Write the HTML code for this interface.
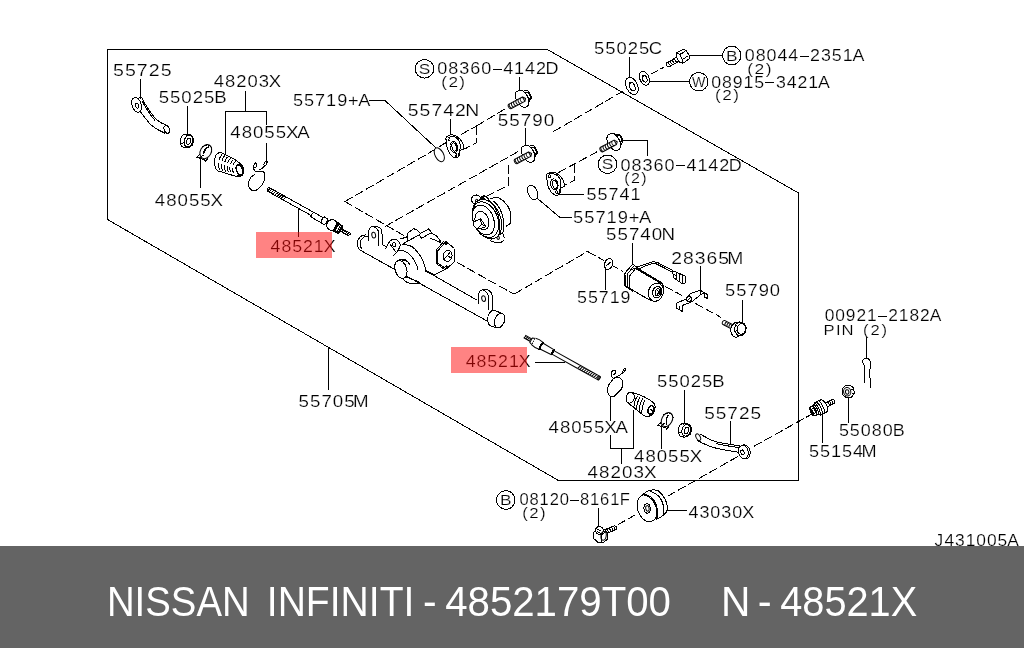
<!DOCTYPE html>
<html lang="en">
<head>
<meta charset="utf-8">
<title>NISSAN INFINITI - 4852179T00 N - 48521X</title>
<style>
html,body{margin:0;padding:0;background:#fff;}
body{width:1024px;height:648px;overflow:hidden;position:relative;font-family:"Liberation Sans",sans-serif;}
#diagram{position:absolute;left:0;top:0;width:1024px;height:546px;overflow:hidden;background:#fff;}
#diagram svg{display:block;will-change:transform;}
#diagram text{font-family:"Liberation Sans",sans-serif;stroke:#fff;stroke-width:0.18px;paint-order:fill stroke;}
#caption{position:absolute;left:0;top:546px;width:1024px;height:102px;background:#646464;color:#fff;}
#caption svg{display:block;will-change:transform;}
#caption text{font-family:"Liberation Sans",sans-serif;fill:#fff;font-size:41.6px;}
</style>
</head>
<body>
<div id="diagram">
<svg width="1024" height="546" viewBox="0 0 1024 546" fill="none" stroke="#000" stroke-width="1" stroke-linecap="butt" stroke-linejoin="round" shape-rendering="crispEdges">
<polygon points="107.5,49.5 547.5,49.5 798.5,193 798.5,480.5 558.5,480.5 107.5,219.5"/>
<text transform="scale(1.232,1)" x="91.73 101.41 111.09 120.78 130.46" y="76.00" font-size="15.9" fill="#000" style="stroke:#fff">55725</text>
<text transform="scale(1.170,1)" x="135.65 145.33 155.01 164.70 174.38 183.19" y="103.50" font-size="15.9" fill="#000" style="stroke:#fff">55025B</text>
<text transform="scale(1.161,1)" x="184.05 193.73 203.42 213.10 222.78 231.59" y="87.25" font-size="15.9" fill="#000" style="stroke:#fff">48203X</text>
<text transform="scale(1.173,1)" x="196.31 205.99 215.68 225.36 235.04 243.85 253.49" y="137.75" font-size="15.9" fill="#000" style="stroke:#fff">48055XA</text>
<text transform="scale(1.175,1)" x="131.72 141.41 151.09 160.77 170.46 179.26" y="205.75" font-size="15.9" fill="#000" style="stroke:#fff">48055X</text>
<text transform="scale(1.142,1)" x="256.49 266.17 275.85 285.54 295.22 304.66 313.67" y="105.75" font-size="15.9" fill="#000" style="stroke:#fff">55719+A</text>
<text transform="scale(1.133,1)" x="385.99 395.67 405.35 415.04 424.72 436.15 444.08 453.77 463.45 473.13 481.50" y="74.50" font-size="15.9" fill="#000" style="stroke:#fff">08360-4142D</text>
<rect x="493" y="68.0" width="9" height="4" fill="#fff" stroke="none"/>
<line x1="493" y1="69.5" x2="502" y2="69.5"/>
<text transform="scale(1.234,1)" x="357.58 363.38 372.25" y="87.25" font-size="13.9" fill="#000" style="stroke:#fff">(2)</text>
<text transform="scale(1.219,1)" x="334.54 344.23 353.91 363.59 373.28 381.65" y="115.75" font-size="15.9" fill="#000" style="stroke:#fff">55742N</text>
<text transform="scale(1.188,1)" x="419.07 428.75 438.43 448.12 457.80" y="125.75" font-size="15.9" fill="#000" style="stroke:#fff">55790</text>
<text transform="scale(1.161,1)" x="511.67 521.35 531.03 540.72 550.40 558.77" y="54.00" font-size="15.9" fill="#000" style="stroke:#fff">55025C</text>
<text transform="scale(1.123,1)" x="663.25 672.94 682.62 692.30 701.98 713.42 721.35 731.03 740.71 750.40 759.17" y="61.00" font-size="15.9" fill="#000" style="stroke:#fff">08044-2351A</text>
<rect x="800" y="55.0" width="9" height="4" fill="#fff" stroke="none"/>
<line x1="800" y1="56.5" x2="809" y2="56.5"/>
<text transform="scale(1.257,1)" x="594.48 600.29 609.15" y="74.25" font-size="13.9" fill="#000" style="stroke:#fff">(2)</text>
<text transform="scale(1.114,1)" x="638.44 648.12 657.80 667.48 677.17 688.60 696.53 706.21 715.90 725.58 734.35" y="87.75" font-size="15.9" fill="#000" style="stroke:#fff">08915-3421A</text>
<rect x="765" y="81.0" width="9" height="4" fill="#fff" stroke="none"/>
<line x1="765" y1="82.5" x2="774" y2="82.5"/>
<text transform="scale(1.234,1)" x="579.44 585.25 594.12" y="100.50" font-size="13.9" fill="#000" style="stroke:#fff">(2)</text>
<text transform="scale(1.133,1)" x="547.74 557.42 567.11 576.79 586.47 597.90 605.84 615.52 625.20 634.89 643.26" y="170.75" font-size="15.9" fill="#000" style="stroke:#fff">08360-4142D</text>
<rect x="676" y="164.0" width="9" height="4" fill="#fff" stroke="none"/>
<line x1="676" y1="165.5" x2="685" y2="165.5"/>
<text transform="scale(1.152,1)" x="541.96 547.77 556.63" y="183.50" font-size="13.9" fill="#000" style="stroke:#fff">(2)</text>
<text transform="scale(1.134,1)" x="517.30 526.98 536.66 546.34 556.03" y="200.25" font-size="15.9" fill="#000" style="stroke:#fff">55741</text>
<text transform="scale(1.154,1)" x="496.60 506.29 515.97 525.65 535.33 544.78 553.79" y="223.50" font-size="15.9" fill="#000" style="stroke:#fff">55719+A</text>
<text transform="scale(1.179,1)" x="514.08 523.76 533.45 543.13 552.81 561.18" y="240.25" font-size="15.9" fill="#000" style="stroke:#fff">55740N</text>
<text transform="scale(1.215,1)" x="552.44 562.12 571.80 581.49 591.17 598.63" y="263.95" font-size="15.9" fill="#000" style="stroke:#fff">28365M</text>
<text transform="scale(1.156,1)" x="627.22 636.90 646.58 656.26 665.95" y="296.00" font-size="15.9" fill="#000" style="stroke:#fff">55790</text>
<text transform="scale(1.124,1)" x="513.38 523.06 532.74 542.42 552.11" y="303.25" font-size="15.9" fill="#000" style="stroke:#fff">55719</text>
<text transform="scale(1.117,1)" x="242.26 251.94 261.62 271.30 280.99 289.80" y="252.00" font-size="15.9" fill="#000" style="stroke:#fff">48521X</text>
<text transform="scale(1.117,1)" x="416.87 426.55 436.24 445.92 455.60 464.41" y="367.00" font-size="15.9" fill="#000" style="stroke:#fff">48521X</text>
<text transform="scale(1.179,1)" x="253.25 262.93 272.61 282.29 291.98 299.43" y="407.05" font-size="15.9" fill="#000" style="stroke:#fff">55705M</text>
<text transform="scale(1.173,1)" x="467.64 477.33 487.01 496.69 506.37 515.18 524.83" y="432.75" font-size="15.9" fill="#000" style="stroke:#fff">48055XA</text>
<text transform="scale(1.184,1)" x="496.30 505.98 515.66 525.35 535.03 543.84" y="477.75" font-size="15.9" fill="#000" style="stroke:#fff">48203X</text>
<text transform="scale(1.170,1)" x="541.93 551.62 561.30 570.98 580.67 589.47" y="461.75" font-size="15.9" fill="#000" style="stroke:#fff">48055X</text>
<text transform="scale(1.161,1)" x="565.91 575.59 585.28 594.96 604.64 613.45" y="387.25" font-size="15.9" fill="#000" style="stroke:#fff">55025B</text>
<text transform="scale(1.199,1)" x="587.29 596.97 606.65 616.33 626.02" y="419.00" font-size="15.9" fill="#000" style="stroke:#fff">55725</text>
<text transform="scale(1.095,1)" x="753.09 762.77 772.45 782.14 791.82 803.25 811.18 820.87 830.55 840.23 849.00" y="321.25" font-size="15.9" fill="#000" style="stroke:#fff">00921-2182A</text>
<rect x="878" y="315.0" width="9" height="4" fill="#fff" stroke="none"/>
<line x1="878" y1="316.5" x2="887" y2="316.5"/>
<text transform="scale(1.163,1)" x="708.17 718.82 723.57 734.63 742.12 748.45 757.92" y="334.85" font-size="14.3" fill="#000" style="stroke:#fff">PIN (2)</text>
<text transform="scale(1.130,1)" x="742.41 752.09 761.77 771.45 781.14 789.95" y="435.75" font-size="15.9" fill="#000" style="stroke:#fff">55080B</text>
<text transform="scale(1.139,1)" x="710.24 719.92 729.61 739.29 748.97 756.43" y="457.00" font-size="15.9" fill="#000" style="stroke:#fff">55154M</text>
<text transform="scale(1.042,1)" x="498.47 508.15 517.83 527.51 537.20 548.63 556.56 566.24 575.93 585.61 594.86" y="505.25" font-size="15.9" fill="#000" style="stroke:#fff">08120-8161F</text>
<rect x="570" y="499.0" width="9" height="4" fill="#fff" stroke="none"/>
<line x1="570" y1="500.5" x2="579" y2="500.5"/>
<text transform="scale(1.210,1)" x="431.63 437.44 446.30" y="518.00" font-size="13.9" fill="#000" style="stroke:#fff">(2)</text>
<text transform="scale(1.130,1)" x="609.24 618.92 628.60 638.29 647.97 656.78" y="517.75" font-size="15.9" fill="#000" style="stroke:#fff">43030X</text>
<text transform="scale(1.095,1)" x="853.33 862.57 872.26 881.94 891.62 901.30 910.99 919.76" y="546.25" font-size="15.9" fill="#000" style="stroke:#fff">J431005A</text>
<circle cx="424.5" cy="68.75" r="9.25"/>
<text transform="translate(424.5,73.95) scale(1.22,1)" font-size="14.2" text-anchor="middle" fill="#000">S</text>
<circle cx="607.5" cy="164.25" r="9.25"/>
<text transform="translate(607.5,169.45) scale(1.22,1)" font-size="14.2" text-anchor="middle" fill="#000">S</text>
<circle cx="731.75" cy="55.5" r="9.25"/>
<text transform="translate(731.75,60.70) scale(1.22,1)" font-size="14.2" text-anchor="middle" fill="#000">B</text>
<circle cx="698.75" cy="81.75" r="9.25"/>
<text transform="translate(698.75,86.95) scale(1.0,1)" font-size="14.2" text-anchor="middle" fill="#000">W</text>
<circle cx="505.75" cy="500" r="9.25"/>
<text transform="translate(505.75,505.20) scale(1.22,1)" font-size="14.2" text-anchor="middle" fill="#000">B</text>
<line x1="140.5" y1="78.5" x2="140.5" y2="99"/>
<line x1="187.5" y1="106" x2="187.5" y2="134"/>
<line x1="245.5" y1="91" x2="245.5" y2="111.5"/>
<polyline points="225.5,154 225.5,111.5 266.5,111.5 266.5,125"/>
<line x1="266.5" y1="142.5" x2="266.5" y2="162.5"/>
<line x1="200.5" y1="158.5" x2="200.5" y2="188"/>
<line x1="298.5" y1="209" x2="298.5" y2="237"/>
<polyline points="368.75,100.5 385,100.5 436,148"/>
<line x1="519.5" y1="77" x2="519.5" y2="90"/>
<line x1="450.5" y1="118.5" x2="450.5" y2="134.5"/>
<line x1="525.5" y1="127.5" x2="525.5" y2="145"/>
<line x1="629.5" y1="57" x2="629.5" y2="77.5"/>
<line x1="688.5" y1="55.5" x2="722.5" y2="55.5"/>
<line x1="650" y1="81.5" x2="689.5" y2="81.5"/>
<polyline points="622.5,140.5 647.5,140.5 647.5,156"/>
<line x1="558.5" y1="194.5" x2="584" y2="194.5"/>
<polyline points="537.5,198.5 560,217.5 571.5,217.5"/>
<line x1="632.5" y1="243" x2="632.5" y2="265"/>
<line x1="700.5" y1="266" x2="700.5" y2="290"/>
<line x1="742.5" y1="300" x2="742.5" y2="322.5"/>
<line x1="605.5" y1="268" x2="605.5" y2="290"/>
<line x1="328.5" y1="347" x2="328.5" y2="390"/>
<line x1="535" y1="362.5" x2="565" y2="362.5"/>
<line x1="610.5" y1="396" x2="610.5" y2="421"/>
<polyline points="610.5,435 610.5,448.5 633.5,448.5 633.5,410"/>
<line x1="621.5" y1="448.5" x2="621.5" y2="464"/>
<line x1="661.5" y1="426" x2="661.5" y2="449"/>
<line x1="684.5" y1="389.5" x2="684.5" y2="424"/>
<line x1="730.5" y1="421" x2="730.5" y2="444"/>
<line x1="866.5" y1="337" x2="866.5" y2="358.5"/>
<line x1="848.5" y1="397.5" x2="848.5" y2="423"/>
<line x1="822.5" y1="413.5" x2="822.5" y2="443"/>
<line x1="598.5" y1="508" x2="598.5" y2="527.5"/>
<line x1="667" y1="510" x2="686.5" y2="510"/>
<g id="arm-55725-a">
<ellipse cx="136.6" cy="104.8" rx="4.6" ry="7.6" transform="rotate(-18 136.6 104.8)" fill="#fff"/>
<ellipse cx="137.2" cy="105.6" rx="1.6" ry="2.6" transform="rotate(-18 137.2 105.6)"/>
<path d="M138.5,97.4 C142,96.5 144.5,100 143.6,104.5"/>
<path d="M143.6,101.5 C148,108 152,116 157,120 C160,122.5 164,124.5 167.5,125.6"/>
<path d="M140.5,112 C144,116 147,121 151,124.8 C155,128.5 160,131 165,133.2"/>
<path d="M141.8,101 C146,108 150,115 155,120.5"/>
<ellipse cx="166.8" cy="129.4" rx="2.6" ry="4.1" transform="rotate(-20 166.8 129.4)" fill="#fff"/>
</g>
<g transform="translate(187,141)">
<path d="M-6.8,-1.6 L-4.6,-5.6 L-1.6,-7 L2.6,-6.6 L5.6,-4.6 L6.9,-0.6 L5.4,4 L2.4,6.4 L-1.4,7 L-5,5.6 L-6.6,2.6 Z" fill="#fff"/>
<ellipse cx="1.4" cy="0.1" rx="4.2" ry="5.9" transform="rotate(18 1.4 0.1)"/>
<ellipse cx="1.7" cy="0.3" rx="2.0" ry="3.3" transform="rotate(18 1.7 0.3)"/>
<path d="M-6.6,2.6 L-2.6,1.6 M-1.6,-7 L-0.8,-5.2 M-1.4,7 L-0.6,5.4"/>
</g>
<g id="clamp-48055x-a">
<ellipse cx="205.8" cy="151.6" rx="5.4" ry="7.4" transform="rotate(28 205.8 151.6)"/>
<path d="M202.5,147 C206,143.5 211,144.5 212,149.5"/>
<path d="M199.8,154.2 L196.5,157.2 L204.2,159.6 L205.8,161.2 L208,158.4"/>
<path d="M199.5,157.8 L203.8,155"/>
<path d="M209.2,146.4 C206,148 204,150.6 203.4,153.6" stroke-width="1.5"/>
</g>
<g id="boot-48203x-a">
<path d="M220.8,152.6 C216.5,152 213.8,157.5 214.6,163.5 C215.2,168.6 217.5,171.8 220.5,171.5 L236.5,176.6 C238.8,177.6 241.5,176.2 242.6,172.8 C243.6,169.5 243.2,166 241.2,164.4 L234.5,159.2 Z" fill="#fff"/>
<path d="M222.1,154.3 C220.3,155.85000000000002 219.7,157.57000000000002 219.3,159.72"/>
<path d="M218.7,163.16000000000003 C218.5,166.17000000000002 218.9,168.75 220.1,170.5"/>
<path d="M224.9,155.39999999999998 C223.10000000000002,156.89999999999998 222.5,158.57999999999998 222.10000000000002,160.67999999999998"/>
<path d="M221.5,164.04 C221.3,166.98 221.70000000000002,169.5 222.9,171.2"/>
<path d="M227.7,156.79999999999998 C225.9,158.2 225.29999999999998,159.79999999999998 224.9,161.79999999999998"/>
<path d="M224.29999999999998,165.0 C224.1,167.79999999999998 224.5,170.2 225.7,171.79999999999998"/>
<path d="M230.5,158.39999999999998 C228.70000000000002,159.64999999999998 228.1,161.13 227.70000000000002,162.98"/>
<path d="M227.1,165.94 C226.9,168.53 227.3,170.75 228.5,172.2"/>
<path d="M233.2,159.99999999999997 C231.4,161.1 230.79999999999998,162.45999999999998 230.4,164.16"/>
<path d="M229.79999999999998,166.88 C229.6,169.26 230.0,171.29999999999998 231.2,172.6"/>
<path d="M235.79999999999998,161.6 C234.0,162.54999999999998 233.39999999999998,163.79 233.0,165.33999999999997"/>
<path d="M232.39999999999998,167.82 C232.2,169.98999999999998 232.6,171.85 233.79999999999998,172.99999999999997"/>
<ellipse cx="239.6" cy="170.2" rx="3.0" ry="5.6" transform="rotate(-20 239.6 170.2)" fill="#fff" stroke-width="1.6"/>
<path d="M236.8,165.5 L240.6,164.4 M237.2,175.6 L241.6,174.6" stroke-width="1.4"/>
</g>
<g id="clip-48055xa-a">
<path d="M254.6,174.4 C252,176 250.2,177.6 249.6,179.6 C248.4,182.6 248.2,185 249,186.8 C249.8,189 251.6,190.6 253.8,190.6 C255.6,190.6 257.2,190 258.6,188.8 C261.2,186.4 263.2,183.4 264.4,180 C265,177.6 265,175 264.4,173 C263.8,171.6 263,171.2 262,171.2 L257.8,171.6 C256.4,172 255.2,171.6 254.6,170.6 C253.6,169.2 253.2,168 253.4,166.8"/>
<ellipse cx="255.3" cy="165.4" rx="1.4" ry="2.5" transform="rotate(18 255.3 165.4)"/>
<path d="M259.2,169.8 C261,169.2 262.4,168.4 263.4,167.4 C264.4,166.4 264.8,165.6 265,165"/>
<ellipse cx="265.6" cy="163.4" rx="1.3" ry="2.4" transform="rotate(25 265.6 163.4)"/>
</g>
<g transform="translate(267.9,189.1) rotate(29.15)">
<path d="M0,-2.0 L20.5,-2.0 M0,2.0 L20.5,2.0 M0.00,2.0 L1.20,-2.0 M2.30,2.0 L3.50,-2.0 M4.60,2.0 L5.80,-2.0 M6.90,2.0 L8.10,-2.0 M9.20,2.0 L10.40,-2.0 M11.50,2.0 L12.70,-2.0 M13.80,2.0 L15.00,-2.0 M16.10,2.0 L17.30,-2.0 M18.40,2.0 L19.60,-2.0 "/>
<ellipse cx="0.6" cy="0" rx="1.0" ry="2.0"/>
<path d="M20.5,-2 L63,-2 M20.5,2 L50,2"/>
<path d="M50,2 C50.5,3.6 52,3.6 53,3.4 L63,3.4 M52,-2 C50.6,-1 50.4,1.4 51.2,3"/>
<path d="M63,-3.2 C61.8,-2 61.8,2.4 63,3.6 L66.5,3.6 C67.8,2.4 67.8,-2 66.5,-3.2 Z" fill="#fff"/>
<circle cx="73.6" cy="0.2" r="5.4" fill="#fff"/>
<path d="M77.5,-4.4 L83,-3.8 L83,4 L77.5,4.6 Z" fill="#fff" stroke-width="1.8"/>
<path d="M79,-3.5 L79,3.8 M81,-3.5 L81,3.8"/>
<path d="M83,-1.5 L93.71950170588832,-1.5 M83,1.5 L93.71950170588832,1.5 M83.00,1.5 L84.20,-1.5 M85.00,1.5 L86.20,-1.5 M87.00,1.5 L88.20,-1.5 M89.00,1.5 L90.20,-1.5 M91.00,1.5 L92.20,-1.5 M93.00,1.5 L94.20,-1.5 "/>
</g>
<g transform="translate(524.5,336.5) rotate(29.19)">
<path d="M0,-1.5 L7.5,-1.5 M0,1.5 L7.5,1.5 M0.00,1.5 L1.20,-1.5 M2.00,1.5 L3.20,-1.5 M4.00,1.5 L5.20,-1.5 M6.00,1.5 L7.20,-1.5 "/>
<path d="M7.5,-2.6 L10.5,-3.6 L10.5,3.6 L7.5,2.6 Z" fill="#fff"/>
<path d="M10.5,-3.8 C13,-4.6 17,-4.4 19,-4 L19,4 C17,4.6 13,4.6 10.5,3.8" fill="#fff"/>
<path d="M19.6,-4.2 C18.2,-2 18.2,2 19.6,4.2" stroke-width="2.2"/>
<path d="M19.6,-3.2 L32.5,-2.8 M19.6,3.4 L32.5,2.8"/>
<path d="M33,-2.9 C31.8,-1.5 31.8,1.5 33,2.9" stroke-width="2.2"/>
<path d="M33,-2 L62,-2 M33,2 L62,2"/>
<path d="M62,-2.0 L85.91047666030028,-2.0 M62,2.0 L85.91047666030028,2.0 M62.00,2.0 L63.20,-2.0 M64.30,2.0 L65.50,-2.0 M66.60,2.0 L67.80,-2.0 M68.90,2.0 L70.10,-2.0 M71.20,2.0 L72.40,-2.0 M73.50,2.0 L74.70,-2.0 M75.80,2.0 L77.00,-2.0 M78.10,2.0 L79.30,-2.0 M80.40,2.0 L81.60,-2.0 M82.70,2.0 L83.90,-2.0 M85.00,2.0 L86.20,-2.0 "/>
<ellipse cx="85.31047666030028" cy="0" rx="1.0" ry="2.0"/>
</g>
<g id="clip-48055xa-b">
<path d="M610.5,396.5 C607,394 606.5,388 609,384.5 L613.5,378.5 C616,376.8 620.5,377 621.8,379.5 C623.4,382.5 622.6,387.5 621,389.5 L614.5,396 C613.2,396.8 611.6,396.8 610.5,396.5 Z"/>
<path d="M613.5,378.5 C611.5,376.5 610.5,373.5 611.8,371.6 C612.8,370 615,369.8 615.6,371 C616.2,372.4 614.6,374.4 613,374.6"/>
<path d="M616.5,376.6 C619,376 621,375 622.2,372.6 C623,371 623.6,368.6 624.6,368.2 C625.6,368 625.6,370 624.4,371.8 C623.6,373 622.6,373.4 621.8,372.8"/>
</g>
<line x1="440" y1="146" x2="476.5" y2="126" stroke-dasharray="9 3"/>
<line x1="476.5" y1="126" x2="507.5" y2="107.5" stroke-dasharray="9 3"/>
<polyline points="476.5,126 476.5,142.8 464.5,149" stroke-dasharray="9 3"/>
<line x1="345" y1="201.5" x2="440.5" y2="146.3" stroke-dasharray="9 3"/>
<line x1="385" y1="226.5" x2="520" y2="150.5" stroke-dasharray="9 3"/>
<polyline points="508.5,165 508.5,185 487.5,196" stroke-dasharray="9 3"/>
<line x1="553.5" y1="131.5" x2="625" y2="90" stroke-dasharray="9 3"/>
<line x1="651.5" y1="73.8" x2="664" y2="67.2" stroke-dasharray="7 3"/>
<line x1="558" y1="172.8" x2="597.5" y2="151.5" stroke-dasharray="9 3"/>
<polyline points="574.5,164 574.5,180.2 564.5,185.4" stroke-dasharray="9 3"/>
<ellipse cx="439.3" cy="154.8" rx="4.2" ry="7.5" transform="rotate(-28 439.3 154.8)" fill="#fff"/>
<ellipse cx="532.6" cy="192.4" rx="4.6" ry="7.6" transform="rotate(-22 532.6 192.4)" fill="#fff"/>
<g transform="translate(454.4,146.6)">
<path d="M-6.4,-10.6 C-8.2,-10.8 -8.8,-9 -8.4,-7.2 L-7.6,-1 C-7,3 -4.6,7.6 -2.2,9.6 C-0.4,11.4 2.6,12 3.6,10.2 C4.6,8.4 4.4,6.2 5.2,4.2 C6.4,0.6 6.2,-4 3.6,-7.2 C1.4,-9.8 -3.4,-10.8 -6.4,-10.6 Z" fill="#fff"/>
<path d="M-5,-11.4 C-3,-12.4 0.6,-11.4 3.2,-9.6 C6.8,-6.8 9.4,-1.6 9.6,2.2 L5.4,4 M-6.6,-10.4 L-4.8,-11.4 M3.4,10.4 L5.4,8.6 L5.6,4.2"/>
<ellipse cx="-0.6" cy="0.4" rx="3.6" ry="5.6" transform="rotate(-12 -0.6 0.4)"/>
<ellipse cx="-0.2" cy="0.4" rx="2.2" ry="4.2" transform="rotate(-12 -0.2 0.4)"/>
<ellipse cx="-5.4" cy="-7.6" rx="1.0" ry="1.5" transform="rotate(-12 -5.4 -7.6)"/>
<ellipse cx="1.6" cy="8.2" rx="1.0" ry="1.5" transform="rotate(-12 1.6 8.2)"/>
</g>
<g transform="translate(555,184)">
<path d="M-6.4,-10.6 C-8.2,-10.8 -8.8,-9 -8.4,-7.2 L-7.6,-1 C-7,3 -4.6,7.6 -2.2,9.6 C-0.4,11.4 2.6,12 3.6,10.2 C4.6,8.4 4.4,6.2 5.2,4.2 C6.4,0.6 6.2,-4 3.6,-7.2 C1.4,-9.8 -3.4,-10.8 -6.4,-10.6 Z" fill="#fff"/>
<path d="M-5,-11.4 C-3,-12.4 0.6,-11.4 3.2,-9.6 C6.8,-6.8 9.4,-1.6 9.6,2.2 L5.4,4 M-6.6,-10.4 L-4.8,-11.4 M3.4,10.4 L5.4,8.6 L5.6,4.2"/>
<ellipse cx="-0.6" cy="0.4" rx="3.6" ry="5.6" transform="rotate(-12 -0.6 0.4)"/>
<ellipse cx="-0.2" cy="0.4" rx="2.2" ry="4.2" transform="rotate(-12 -0.2 0.4)"/>
<ellipse cx="-5.4" cy="-7.6" rx="1.0" ry="1.5" transform="rotate(-12 -5.4 -7.6)"/>
<ellipse cx="1.6" cy="8.2" rx="1.0" ry="1.5" transform="rotate(-12 1.6 8.2)"/>
</g>
<g transform="translate(522,98.8)">
<path d="M1.6,-7.9 L6,-7.8 L7.6,-5.6 L9.6,-1.4 L7.2,3 L4,5" fill="#fff"/>
<path d="M2.6,-6.4 L6.6,-6.2 M6,-7.8 L6.6,-6.2 L8.4,-2 L9.6,-1.4 M8.4,-2 L6.8,1.6"/>
<path d="M-2.4,-8.6 L0.4,-8.7 C3,-6.6 5.4,-3.4 6.4,-0.6 C7,1.4 7,4 6.6,5.6 L5.4,7.6 L2.4,8.6 L0.2,7.8 C-3,6 -5.4,2.6 -6.4,-0.4 C-7,-2.4 -6.8,-5 -6,-6.6 Z" fill="#fff"/>
<g transform="translate(0.4,1) rotate(152)">
<path d="M-1.4,-2.5 L14.4,-2.5 C16.0,-1.8 16.0,1.8 14.4,2.5 L-1.4,2.5 Z" fill="#fff"/>
<path d="M1.0,-2.5 C2.3,-1.2 2.3,1.2 1.0,2.5 M3.5,-2.5 C4.8,-1.2 4.8,1.2 3.5,2.5 M6.0,-2.5 C7.3,-1.2 7.3,1.2 6.0,2.5 M8.5,-2.5 C9.8,-1.2 9.8,1.2 8.5,2.5 M11.0,-2.5 C12.3,-1.2 12.3,1.2 11.0,2.5 M13.5,-2.5 C14.8,-1.2 14.8,1.2 13.5,2.5 "/>
<path d="M-1.4,-2.5 L-3.4,-0.4 L-1.8,2 L-1.4,2.5"/>
</g>
</g>
<g transform="translate(528,153.8)">
<path d="M1.6,-7.9 L6,-7.8 L7.6,-5.6 L9.6,-1.4 L7.2,3 L4,5" fill="#fff"/>
<path d="M2.6,-6.4 L6.6,-6.2 M6,-7.8 L6.6,-6.2 L8.4,-2 L9.6,-1.4 M8.4,-2 L6.8,1.6"/>
<path d="M-2.4,-8.6 L0.4,-8.7 C3,-6.6 5.4,-3.4 6.4,-0.6 C7,1.4 7,4 6.6,5.6 L5.4,7.6 L2.4,8.6 L0.2,7.8 C-3,6 -5.4,2.6 -6.4,-0.4 C-7,-2.4 -6.8,-5 -6,-6.6 Z" fill="#fff"/>
<g transform="translate(0.4,1) rotate(152)">
<path d="M-1.4,-2.5 L14.4,-2.5 C16.0,-1.8 16.0,1.8 14.4,2.5 L-1.4,2.5 Z" fill="#fff"/>
<path d="M1.0,-2.5 C2.3,-1.2 2.3,1.2 1.0,2.5 M3.5,-2.5 C4.8,-1.2 4.8,1.2 3.5,2.5 M6.0,-2.5 C7.3,-1.2 7.3,1.2 6.0,2.5 M8.5,-2.5 C9.8,-1.2 9.8,1.2 8.5,2.5 M11.0,-2.5 C12.3,-1.2 12.3,1.2 11.0,2.5 M13.5,-2.5 C14.8,-1.2 14.8,1.2 13.5,2.5 "/>
<path d="M-1.4,-2.5 L-3.4,-0.4 L-1.8,2 L-1.4,2.5"/>
</g>
</g>
<g transform="translate(613.6,142)">
<path d="M1.6,-7.9 L6,-7.8 L7.6,-5.6 L9.6,-1.4 L7.2,3 L4,5" fill="#fff"/>
<path d="M2.6,-6.4 L6.6,-6.2 M6,-7.8 L6.6,-6.2 L8.4,-2 L9.6,-1.4 M8.4,-2 L6.8,1.6"/>
<path d="M-2.4,-8.6 L0.4,-8.7 C3,-6.6 5.4,-3.4 6.4,-0.6 C7,1.4 7,4 6.6,5.6 L5.4,7.6 L2.4,8.6 L0.2,7.8 C-3,6 -5.4,2.6 -6.4,-0.4 C-7,-2.4 -6.8,-5 -6,-6.6 Z" fill="#fff"/>
<g transform="translate(0.4,1) rotate(152)">
<path d="M-1.4,-2.5 L14.4,-2.5 C16.0,-1.8 16.0,1.8 14.4,2.5 L-1.4,2.5 Z" fill="#fff"/>
<path d="M1.0,-2.5 C2.3,-1.2 2.3,1.2 1.0,2.5 M3.5,-2.5 C4.8,-1.2 4.8,1.2 3.5,2.5 M6.0,-2.5 C7.3,-1.2 7.3,1.2 6.0,2.5 M8.5,-2.5 C9.8,-1.2 9.8,1.2 8.5,2.5 M11.0,-2.5 C12.3,-1.2 12.3,1.2 11.0,2.5 M13.5,-2.5 C14.8,-1.2 14.8,1.2 13.5,2.5 "/>
<path d="M-1.4,-2.5 L-3.4,-0.4 L-1.8,2 L-1.4,2.5"/>
</g>
</g>
<ellipse cx="631.9" cy="86" rx="5.6" ry="9.2" transform="rotate(-24 631.9 86)" fill="#fff"/>
<ellipse cx="632.1999999999999" cy="86.4" rx="2.6" ry="4.6" transform="rotate(-24 632.1999999999999 86.4)"/>
<path d="M631.4,82.0 C628.9,84.6 629.3,88.8 631.5,90.8"/>
<ellipse cx="644.4" cy="78.2" rx="4.6" ry="7.4" transform="rotate(-24 644.4 78.2)" fill="#fff"/>
<ellipse cx="644.6999999999999" cy="78.60000000000001" rx="2.2" ry="3.6" transform="rotate(-24 644.6999999999999 78.60000000000001)"/>
<path d="M644.0,75.2 C641.8,77.1 642.2,80.4 644.0,82.0"/>
<g id="bolt-08044">
<g transform="translate(682.4,56.6) rotate(150)">
<path d="M-4.6,-5.4 L3,-6 L5.4,-3 L5.4,3.6 L3,6.4 L-4.6,5.8 L-6.4,2.6 L-6.4,-2.4 Z" fill="#fff"/>
<path d="M3,-6 L1.4,-2.6 L1.4,3.2 L3,6.4 M1.4,-2.6 L-5,-2.2 M1.4,3.2 L-5,3"/>
<path d="M5.4,-2.2 L17,-2.2 C18.6,-1.4 18.6,1.8 17,2.4 L5.4,2.4 Z" fill="#fff"/>
<path d="M7.5,-2.2 C8.6,-1 8.6,1.4 7.5,2.4 M9.8,-2.2 C10.9,-1 10.9,1.4 9.8,2.4 M12.1,-2.2 C13.2,-1 13.2,1.4 12.1,2.4 M14.4,-2.2 C15.5,-1 15.5,1.4 14.4,2.4"/>
</g></g>
<g id="housing">
<line x1="344.5" y1="201.3" x2="405.5" y2="236.5" stroke-dasharray="9 3"/>
<line x1="457" y1="262.4" x2="514" y2="294.2" stroke-dasharray="9 3"/>
<line x1="514" y1="294.2" x2="587.5" y2="251.5" stroke-dasharray="9 3"/>
<polyline points="587.5,251.5 604,260.5" stroke-dasharray="9 3"/>
<line x1="613" y1="266" x2="623" y2="271.5" stroke-dasharray="6 3"/>
<path d="M360.3,250.2 L487.4,321.2"/>
<path d="M425.6,271 L433.6,275.4 L477.4,300.4"/>
<path d="M446.6,268.6 L433.6,275.4"/>
<path d="M366,235 C361,234.6 357.2,238.6 357.4,243.6 C357.6,247.4 358.8,249.6 360.4,250.4"/>
<path d="M367.5,236 C363.4,236 360,239.6 360.2,243.8 C360.4,246.6 361,248.4 362.2,249.6"/>
<path d="M368.6,241 L368.8,231 C369.2,227.6 372,225.8 375.4,226.2 C379,226.6 381.4,228.6 381.8,231.6 L382.8,245 L386.6,246.6" fill="#fff"/>
<path d="M372.6,226.6 C376,227.6 378.2,229.4 378.4,232 L378.6,245.8"/>
<ellipse cx="373.7" cy="235.2" rx="1.9" ry="2.9" transform="rotate(-10 373.7 235.2)"/>
<path d="M385.4,249 L389,242.4 C390.6,239.2 394.6,238.4 397.6,240.4 C400.4,242.4 400.8,245.6 399,248.6 L396.6,252.4 L393.6,255.6"/>
<path d="M389.6,243.6 C392,246.4 394,249.6 396.4,252.6"/>
<ellipse cx="394.2" cy="244.8" rx="1.5" ry="2.2" transform="rotate(-20 394.2 244.8)"/>
<path d="M400.4,239 L406.6,237 L407.8,233.2 L413.4,228.8 L416.6,229.4 L420.4,233.2 L429,228.8 L431.6,233.2 L436.6,235.8 L441,242"/>
<path d="M402,244.4 L407.2,241.4 L419,235 L421.6,238.2 L430.4,233.2"/>
<path d="M430.4,238.2 L441,242.6"/>
<path d="M407.2,241.4 L407.8,233.2 M419,235 L420.4,233.2"/>
<path d="M402.2,244.6 C408,244.6 412,246 414.4,248.6 C419,253.6 421.6,257.6 423,261 C424.4,264.6 425,267.6 426,270.4 L434,274.6"/>
<path d="M397.8,250.8 C401.6,250.2 404.6,250.8 407,252.4 C410.6,255 412.8,257.8 414.4,260.4 C416.4,263.6 417.4,266.6 417.8,269.6"/>
<path d="M397.8,260.8 C400.6,258.8 403,258.6 405,259.6 C407,260.8 408.6,262.6 409.8,264.6"/>
<ellipse cx="400.9" cy="269.4" rx="5.8" ry="9.2" transform="rotate(-18 400.9 269.4)" fill="#fff"/>
<path d="M401.6,260.2 C405.4,259.8 408.4,261.8 409.8,264.8"/>
<path d="M402.4,278.4 C405,281.4 408.4,283.4 411.8,283.6 C414.8,283.8 417.8,283.4 420.4,282.6 M405.6,276.6 L420.4,282.6"/>
<path d="M445.9,241.4 L454,248.2 L454.6,261.4 L446.5,269 L437.8,263.2 L437.8,250.8 Z" fill="#fff"/>
<path d="M444.4,240.6 L436.2,250.2 L436.2,263.6 L444.6,269.4"/>
<ellipse cx="447.6" cy="255.8" rx="4.4" ry="5.6" transform="rotate(12 447.6 255.8)"/>
<path d="M447.4,255.6 L450.4,251.8 M447.4,255.6 L451.6,258.6 M447.4,255.6 L444.2,259.2"/>
<ellipse cx="446.4" cy="243.6" rx="0.8" ry="0.8" fill="#000"/>
<ellipse cx="446.6" cy="266.6" rx="0.8" ry="0.8" fill="#000"/>
<path d="M478.6,303.6 L478.6,294.8 C479,291.2 482,289.2 485.4,289.5 C489.2,289.8 491.8,292.4 492.2,296 L492.6,309.2" fill="#fff"/>
<path d="M482.4,289.9 C486,290.8 488.2,293.2 488.4,297.2 L488.6,309.8"/>
<ellipse cx="483.6" cy="298.6" rx="1.9" ry="2.9" transform="rotate(-10 483.6 298.6)"/>
<path d="M492.2,309.8 L502.4,313.4 M489.8,325.4 L496.6,328"/>
<path d="M492.6,310.2 C489,312.4 487.2,317 487.8,321 C488.2,323.6 489,325 490.2,325.6"/>
<ellipse cx="499.6" cy="320.6" rx="4.8" ry="7.6" transform="rotate(20 499.6 320.6)" fill="#fff"/>
</g>
<g id="actuator">
<path d="M490.6,199 C493,197.6 496,197.2 498.4,197.8 C505,200.6 509.6,207.4 510.6,213.4 L510.6,223.2 L505.6,226.6" fill="#fff"/>
<circle cx="476.2" cy="199.6" r="4.6" fill="#fff" stroke-width="1.2"/>
<ellipse cx="476.8" cy="201.2" rx="1.3" ry="1.9" transform="rotate(-15 476.8 201.2)"/>
<path d="M480.6,197.4 C482.6,195.4 486.4,195.8 488,198.4 L489.4,201.6" stroke-width="1.4"/>
<ellipse cx="483.2" cy="199.4" rx="1.1" ry="1.6" transform="rotate(-15 483.2 199.4)" stroke-width="1.4"/>
<path d="M490.6,240.2 L493.6,236.8 L502.4,233.2 C504.4,236 504.6,239.6 503,241.4 L499.4,242.8 L491.6,241.6 Z" fill="#fff"/>
<ellipse cx="498.2" cy="237.8" rx="1.2" ry="1.6" transform="rotate(-15 498.2 237.8)"/>
<ellipse cx="486.9" cy="219.2" rx="13.6" ry="20.6" transform="rotate(-22 486.9 219.2)" fill="#fff"/>
<ellipse cx="485.4" cy="219.6" rx="12.2" ry="18.6" transform="rotate(-22 485.4 219.6)"/>
<ellipse cx="483.4" cy="220" rx="10.2" ry="15.6" transform="rotate(-22 483.4 220)"/>
<ellipse cx="482" cy="220.6" rx="6.6" ry="9.6" transform="rotate(-22 482 220.6)"/>
<path d="M492.6,200.4 C498.6,204.6 503,213 503.6,221 C504,227 503.4,231 502.6,233.4 M489.4,201 C495,206 498.6,213.6 499.4,221 C500,227 499.6,232 498.6,235.6"/>
<path d="M473.2,222 L480.6,218.8 L485.4,225.8 L484.8,227.4 L476.8,229.2 L473.6,225.4 Z" fill="#fff"/>
<path d="M480.6,218.8 L481.4,224.6 L476.8,229.2 M481.4,224.6 L485.4,225.8"/>
</g>
<g id="motor-55740n">
<ellipse cx="608.6" cy="264" rx="3.9" ry="5.6" transform="rotate(20 608.6 264)" fill="#fff"/>
<path d="M605.6,266.2 L611.4,261.6"/>
<line x1="665" y1="286.4" x2="682" y2="295.4" stroke-dasharray="9 3"/>
<line x1="695" y1="303.2" x2="721.4" y2="317.6" stroke-dasharray="9 3"/>
<path d="M638.2,268.6 L662.4,283.2 C664.4,287.6 663.6,294.6 660,298.6 C656.6,301.6 651.4,301 648.2,299.2 L625.2,286 L625,273.6 L632.6,264 Z" fill="#fff"/>
<path d="M636.2,268.2 L662,283.6" stroke-width="2"/>
<path d="M625.2,286 L633.4,291 " stroke-width="1.8"/>
<path d="M624.6,273.4 L632.6,264 L636.6,267 L629.4,276.4 L629.4,288.4 M624.6,273.4 L624.6,285.6 L629.4,288.4"/>
<path d="M627,274.6 L633.4,266.4 M627,274.8 L627,286.6 M630.6,270.2 L634.6,268"/>
<ellipse cx="655.9" cy="292.2" rx="7.4" ry="9.2" transform="rotate(18 655.9 292.2)" fill="#fff"/>
<ellipse cx="657.2" cy="292.2" rx="4.6" ry="5.8" transform="rotate(18 657.2 292.2)"/>
<ellipse cx="657.8" cy="292.2" rx="2.6" ry="3.6" transform="rotate(18 657.8 292.2)"/>
<path d="M657,290 L660.6,294.6 M660.4,289.6 L657,295"/>
<path d="M637.4,267 L644.6,264.4 L653.2,261.6 L657.2,262.4 L673.4,270.6"/>
<path d="M639.4,269 L645.4,265.8 L653.2,263.4 L656.6,264 L672.6,272.2"/>
<path d="M672.8,270.8 L685.2,276 L685.4,282.8 L682.6,284 L673.2,277.4 Z" fill="#fff"/>
<path d="M676.4,272.6 L676.6,279.6 M679.6,274 L679.8,281.8 M682.6,275.2 L682.6,284 M673,274 L676.4,275.6"/>
</g>
<g id="bracket-28365m">
<path d="M676.4,303.4 L685.8,299 L690.8,293.4 L700.2,290.2 L707.6,294.6 L707.8,298.6 L704.4,297 L704.2,293.4 L700.6,294.6 L692.2,301.6 L682.6,305.4 L682.4,311.4 L677,308.6 Z" fill="#fff"/>
<path d="M679.6,305.6 L679.6,309.8 L682.4,311.4 M700.2,290.2 L700.4,294.6 M704.4,297 L707.8,298.6"/>
<ellipse cx="689" cy="299" rx="2.4" ry="2.8"/>
<path d="M687.4,300.8 L690.6,297.2"/>
</g>
<g id="screw-55790-b">
<g transform="translate(736.8,329.4) rotate(208)">
<path d="M3,-2.1 L15,-2.1 C16.6,-1.4 16.6,1.6 15,2.2 L3,2.2 Z" fill="#fff"/>
<path d="M5.4,-2.1 C6.5,-1 6.5,1.2 5.4,2.2 M7.7,-2.1 C8.8,-1 8.8,1.2 7.7,2.2 M10,-2.1 C11.1,-1 11.1,1.2 10,2.2 M12.3,-2.1 C13.4,-1 13.4,1.2 12.3,2.2"/>
</g>
<ellipse cx="736.8" cy="329.6" rx="6" ry="7.6" transform="rotate(12 736.8 329.6)" fill="#fff"/>
<path d="M735.2,324.4 L739.6,322 L744,323.4 L746.2,327.4 L745.6,332.4 L742,335.6 L737.4,335 L734.6,331.4 Z" fill="#fff"/>
<ellipse cx="741.4" cy="329" rx="4.2" ry="5.4" transform="rotate(12 741.4 329)"/>
<path d="M735.2,324.4 L737.8,326.6 M734.6,331.4 L737.4,330.6 M739.6,322 L740.4,323.8"/>
</g>
<g id="boot-48203x-b">
<path d="M631.6,392.4 C628.6,391.6 626,394.6 626,398 C626,400.4 626.6,401.8 627.6,402.6 L643.6,415.4 C646.6,417.6 651.6,416.4 653.8,412.6 C655.8,409 655.6,404.6 653.2,402.4 C647,397.6 639,394.2 631.6,392.4 Z" fill="#fff"/>
<path d="M631.6,392.4 C634.4,393.6 635,397 633.8,399.8 C632.6,402.4 630,403.6 627.6,402.6"/>
<path d="M637.6,395.8 C634.8,399.28000000000003 634.1999999999999,403.92 633.8,407.40000000000003"/>
<path d="M640.2,397.0 C637.4,400.71999999999997 636.8,405.68 636.4,409.4"/>
<path d="M642.8000000000001,398.40000000000003 C640.0,402.24 639.4,407.36 639.0,411.2"/>
<path d="M645.4000000000001,399.59999999999997 C642.6,403.56 642.0,408.84 641.6,412.8"/>
<ellipse cx="651" cy="409.8" rx="2.9" ry="4.4" transform="rotate(18 651 409.8)" stroke-width="1.5"/>
<path d="M649.6,408.6 L652.6,410.8"/>
</g>
<g id="clamp-48055x-b">
<ellipse cx="667" cy="419.6" rx="5.2" ry="7.4" transform="rotate(28 667 419.6)"/>
<path d="M663.6,415 C667,411.6 672.2,412.6 673.2,417.6"/>
<path d="M661,422.4 L657.8,425.4 L665.4,427.6 L666.8,429.2 L669,426.4"/>
<path d="M660.8,426 L665,423"/>
<path d="M668.6,414.6 C666.4,417.6 665.6,421 666.4,424.6"/>
</g>
<g transform="translate(684.8,430.2)">
<path d="M-6.8,-1.6 L-4.6,-5.6 L-1.6,-7 L2.6,-6.6 L5.6,-4.6 L6.9,-0.6 L5.4,4 L2.4,6.4 L-1.4,7 L-5,5.6 L-6.6,2.6 Z" fill="#fff"/>
<ellipse cx="1.4" cy="0.1" rx="4.2" ry="5.9" transform="rotate(18 1.4 0.1)"/>
<ellipse cx="1.7" cy="0.3" rx="2.0" ry="3.3" transform="rotate(18 1.7 0.3)"/>
<path d="M-6.6,2.6 L-2.6,1.6 M-1.6,-7 L-0.8,-5.2 M-1.4,7 L-0.6,5.4"/>
</g>
<g id="arm-55725-b">
<path d="M699.4,433.8 C705,436.6 710,440 716,441.8 C724,443.8 732,444.6 740,445.8"/>
<path d="M697.4,440.4 C702,443 707,445.6 713,447.4 C721,449.6 730,451 738.6,452.2"/>
<path d="M716,443.6 C724,445.6 732,446.6 739.4,447.6"/>
<ellipse cx="698.2" cy="437.2" rx="2.0" ry="3.6" transform="rotate(-28 698.2 437.2)" fill="#fff"/>
<path d="M741.6,445.4 C745,443.8 749,446 750,450.6 C750.8,454.4 749.4,458 746.4,458.8"/>
<ellipse cx="743.4" cy="452" rx="4.8" ry="6.8" transform="rotate(-14 743.4 452)" fill="#fff"/>
<ellipse cx="742.4" cy="452.4" rx="1.7" ry="2.5" transform="rotate(-14 742.4 452.4)"/>
</g>
<line x1="753.8" y1="446.4" x2="812" y2="414" stroke-dasharray="9 3"/>
<line x1="738" y1="456.4" x2="665.2" y2="497.6" stroke-dasharray="9 3"/>
<line x1="618" y1="524.6" x2="636.6" y2="514.2" stroke-dasharray="8 3.6"/>
<g id="stud-55154m" transform="translate(813.4,411) rotate(-26)">
<path d="M14.5,-2 L22.6,-2 C24,-1.4 24,1.6 22.6,2.2 L14.5,2.2 Z" fill="#fff"/>
<path d="M16.4,-2 C17.5,-1 17.5,1.2 16.4,2.2 M18.4,-2 C19.5,-1 19.5,1.2 18.4,2.2 M20.4,-2 C21.5,-1 21.5,1.2 20.4,2.2"/>
<path d="M0,-5 L3.4,-5.4 L4.6,-6.8 L12,-6.8 C13.8,-5 14.6,-3 14.6,0 C14.6,3 13.8,5.4 12,6.6 L4.6,6.8 L3.4,5.4 L0,5 Z" fill="#fff"/>
<path d="M4.6,-6.8 C6.4,-4 6.4,4 4.6,6.8 M6.8,-6.8 C8.6,-4 8.6,4 6.8,6.8 M9.2,-6.8 C11,-4 11,4 9.2,6.8 M3.4,-5.4 C4.8,-3 4.8,3 3.4,5.4"/>
<ellipse cx="0" cy="0" rx="2.6" ry="5" fill="#fff" stroke-width="1.5"/>
<ellipse cx="0.2" cy="0" rx="1.4" ry="2.6"/>
</g>
<g id="nut-55080b">
<path d="M842.4,388.6 L845.4,385.6 L850.6,385.4 L853.8,388.4 L854.2,393.8 L851.6,397 L846.2,397.6 L842.6,394.6 Z" fill="#fff"/>
<ellipse cx="847.2" cy="391.8" rx="3.6" ry="4.3" transform="rotate(-10 847.2 391.8)"/>
<ellipse cx="847.2" cy="392" rx="1.7" ry="2.2" transform="rotate(-10 847.2 392)"/>
<path d="M851.6,389.8 L853.8,388.4 M852,394 L854.2,393.8"/>
</g>
<g id="pin-00921">
<path d="M866.4,358.2 C864.4,358 862.6,359.4 862.6,361.4 C862.6,363.4 863.6,364.8 864.7,366 L864.7,382.8"/>
<path d="M866.4,358.2 C868.6,358.6 870.4,361 870.6,363.4 L870.6,368.4 L869.7,369.4 L869.8,377.8 L870.7,378.4 L870.7,387.8"/>
</g>
<g id="bushing-43030x">
<path d="M643,494.6 C646,491.6 649.6,490 653,489.8 C655.4,489.8 657.4,490.2 658.6,491 C662,494 664.6,497.4 666.2,502 C667.4,505.4 667.6,507.6 667.4,509.6 C666.8,512 665.6,513.4 664.2,514.6 C661.8,516.6 659.4,518.2 656.6,519.4 Z" fill="#fff"/>
<path d="M650,491.4 C654,492.6 657.4,494.4 659.6,497.2 C662,500.4 663.4,504 663.6,507.6 C663.8,510.4 663.6,512.6 663.2,514.6"/>
<ellipse cx="647.2" cy="508.2" rx="9.6" ry="13.8" transform="rotate(-18 647.2 508.2)" fill="#fff"/>
<path d="M643.4,494.8 C649,495.8 653.4,500 655.6,505.6 C657.2,510 657.4,514.6 656.6,519.2"/>
<path d="M656.8,511.6 L656.6,518.4" stroke-width="1.8"/>
<path d="M644.4,504.6 L647.4,503.4 L649.6,505.2 L650.6,509.6 L649.6,512.6 L647,513.4 L644.6,511.4 L643.8,507.6 Z" fill="#fff"/>
<ellipse cx="647.4" cy="508.4" rx="1.7" ry="2.8" transform="rotate(-10 647.4 508.4)"/>
</g>
<g id="bolt-08120">
<g transform="translate(604.6,531.6) rotate(-20)">
<path d="M0,-2 L11.6,-2 C13,-1.4 13,1.6 11.6,2.2 L0,2.2 Z" fill="#fff"/>
<path d="M2.6,-2 C3.7,-1 3.7,1.2 2.6,2.2 M5,-2 C6.1,-1 6.1,1.2 5,2.2 M7.4,-2 C8.5,-1 8.5,1.2 7.4,2.2 M9.6,-2 C10.7,-1 10.7,1.2 9.6,2.2"/>
</g>
<path d="M594.4,531.4 L598.6,529 L604.4,529.6 L607.8,533.4 L607.6,539 L603.8,542.2 L598,542.4 L593.8,538.6 L593.2,534 Z" fill="#fff"/>
<circle cx="599.4" cy="530.4" r="3.9" fill="#fff" stroke-width="1.1"/>
<path d="M597.4,531.4 L602,534.6 L605.6,531.6 M602,534.6 L601.6,541.6 M597,529 L600.6,531"/>
<ellipse cx="603.6" cy="535.8" rx="2.6" ry="4.4" transform="rotate(10 603.6 535.8)"/>
</g>
<rect x="256" y="232" width="76" height="26" fill="#ff0808" fill-opacity="0.5" stroke="none"/>
<rect x="451" y="347" width="76" height="25.7" fill="#ff0808" fill-opacity="0.5" stroke="none"/>
</svg>
</div>
<div id="caption">
<svg width="1024" height="102" viewBox="0 546 1024 102">
<text x="106.9" y="616.4" textLength="142.8" lengthAdjust="spacingAndGlyphs">NISSAN</text>
<text x="266.8" y="616.4" textLength="147.6" lengthAdjust="spacingAndGlyphs">INFINITI</text>
<text x="423.1" y="616.4" textLength="13.6" lengthAdjust="spacingAndGlyphs">-</text>
<text x="445.2" y="616.4" textLength="225.8" lengthAdjust="spacingAndGlyphs">4852179T00</text>
<text x="720.9" y="616.4" textLength="29.4" lengthAdjust="spacingAndGlyphs">N</text>
<text x="757.8" y="616.4" textLength="13.9" lengthAdjust="spacingAndGlyphs">-</text>
<text x="780.2" y="616.4" textLength="137" lengthAdjust="spacingAndGlyphs">48521X</text>
</svg>
</div>
</body>
</html>
